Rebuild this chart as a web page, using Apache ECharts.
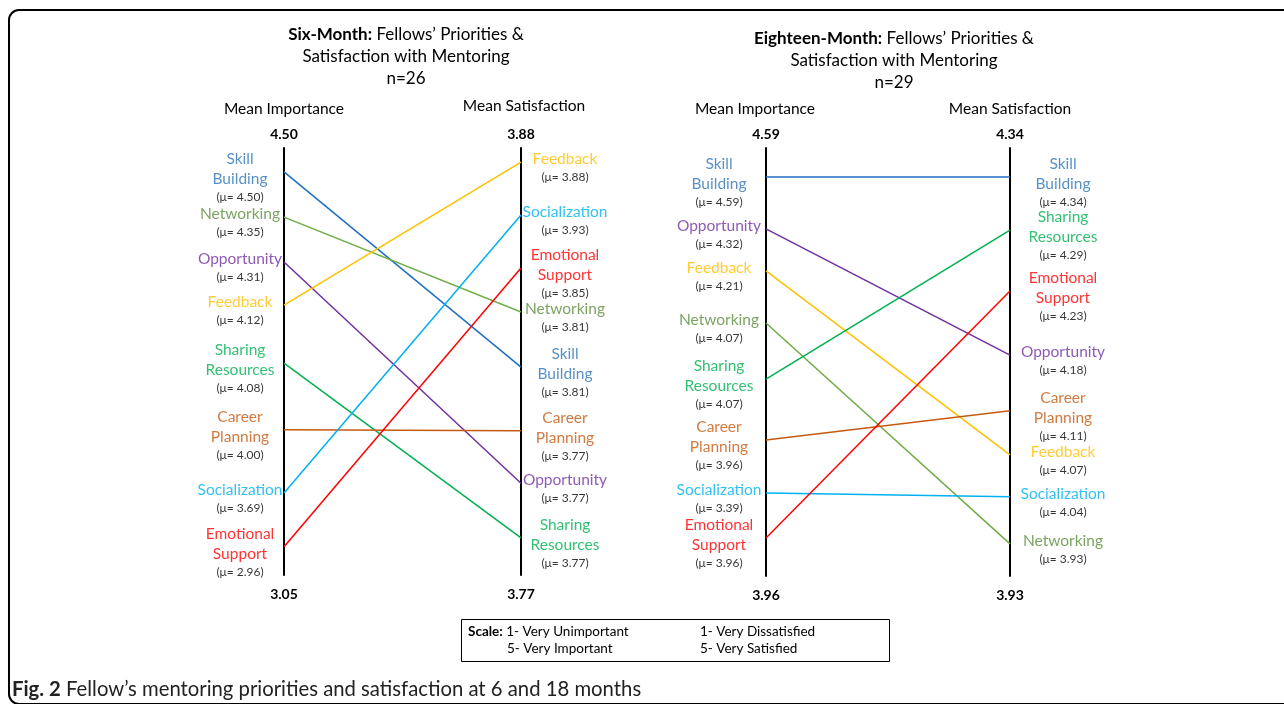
<!DOCTYPE html>
<html>
<head>
<meta charset="utf-8">
<script src="https://cdn.jsdelivr.net/npm/echarts@6/dist/echarts.min.js"></script>
<style>
html,body{margin:0;padding:0;background:#fff;}
#chart{width:1284px;height:704px;}
</style>
</head>
<body>
<div id="chart"></div>
<script>
// ---------- DATA ----------
const categories = ['Skill Building', 'Networking', 'Opportunity', 'Feedback', 'Sharing Resources', 'Career Planning', 'Socialization', 'Emotional Support'];

// Six-month (n=26)
const sixImportance   = [4.50, 4.35, 4.31, 4.12, 4.08, 4.00, 3.69, 2.96];
const sixSatisfaction = [3.81, 3.81, 3.77, 3.88, 3.77, 3.77, 3.93, 3.85];
// drawn level on each vertical axis (0 = bottom, 100 = top)
const sixImpLevel     = [94.4, 83.8, 73.3, 63.2, 49.6, 34.0, 19.2, 6.6];
const sixSatLevel     = [48.7, 61.6, 21.5, 96.7, 8.7, 33.8, 84.3, 71.9];
const sixTopTicks     = ['4.50', '3.88'];
const sixBottomTicks  = ['3.05', '3.77'];

// Eighteen-month (n=29)
const eighteenImportance   = [4.59, 4.07, 4.32, 4.21, 4.07, 3.96, 3.39, 3.96];
const eighteenSatisfaction = [4.34, 3.93, 4.18, 4.07, 4.29, 4.11, 4.04, 4.23];
const eighteenImpLevel     = [93.2, 59.1, 81.1, 71.3, 46.0, 31.8, 19.4, 8.9];
const eighteenSatLevel     = [93.2, 7.5, 51.6, 28.3, 80.8, 38.6, 18.5, 66.6];
const eighteenTopTicks     = ['4.59', '4.34'];
const eighteenBottomTicks  = ['3.96', '3.93'];

const axisHeaders = ['Mean Importance', 'Mean Satisfaction'];

// ---------- STYLE ----------
const lineColors = ['#1F6FC0', '#70AD47', '#7030A0', '#FFC000', '#00B050', '#C55A11', '#00B0F0', '#FF0000'];
const textColors = ['#2E75B6', '#5B8C3A', '#7030A0', '#FFC000', '#00B050', '#C55A11', '#00B0F0', '#FF0000'];
const FONT = 'Lato';

function nameRich(i) {
  return categories[i].split(' ').map(w => `{n${i}|${w}}`).join('\n');
}
const rich = {};
categories.forEach((c, i) => {
  rich['n' + i] = {fontFamily: FONT, fontSize: 15.5, color: textColors[i], lineHeight: 20, align: 'center'};
});
rich.mu = {fontFamily: FONT, fontSize: 12, color: '#000', lineHeight: 16, align: 'center'};

function makeLabels(gi, side, values, levels, dx) {
  return {
    type: 'scatter', xAxisIndex: gi * 2, yAxisIndex: gi * 2,
    symbolSize: 1, itemStyle: {color: 'transparent'}, silent: true,
    data: categories.map((c, i) => [side, levels[i], i]),
    label: {
      show: true, position: 'inside', align: 'center', verticalAlign: 'middle',
      offset: [dx, 5],
      formatter: p => {
        const i = p.value[2];
        return nameRich(i) + '\n{mu|(\u03bc= ' + values[i].toFixed(2) + ')}';
      },
      rich: rich
    },
    z: 5
  };
}

function makePanel(gi, imp, sat, impLvl, satLvl, dxL, dxR) {
  const s = categories.map((c, i) => ({
    type: 'line', name: c, xAxisIndex: gi * 2, yAxisIndex: gi * 2,
    data: [[0, impLvl[i]], [1, satLvl[i]]],
    symbol: 'none', silent: true,
    lineStyle: {color: lineColors[i], width: 1.5}
  }));
  s.push(makeLabels(gi, 0, imp, impLvl, dxL));
  s.push(makeLabels(gi, 1, sat, satLvl, dxR));
  return s;
}

function xAxes(gi, top, bottom, headPad) {
  return [
    {
      gridIndex: gi, type: 'category', position: 'bottom', data: bottom, boundaryGap: false,
      axisLine: {show: false}, axisTick: {show: false},
      axisLabel: {fontFamily: FONT, fontWeight: 'bold', fontSize: 14, color: '#000', margin: 12, interval: 0}
    },
    {
      gridIndex: gi, type: 'category', position: 'top', data: top, boundaryGap: false,
      axisLine: {show: false}, axisTick: {show: false},
      axisLabel: {
        interval: 0, margin: 5,
        formatter: (v, idx) => `{h${idx}|${axisHeaders[idx]}}\n{v|${v}}`,
        rich: {
          h0: {fontFamily: FONT, fontSize: 15.5, color: '#000', lineHeight: 32, padding: headPad[0]},
          h1: {fontFamily: FONT, fontSize: 15.5, color: '#000', lineHeight: 32, padding: headPad[1]},
          v: {fontFamily: FONT, fontSize: 14, fontWeight: 'bold', color: '#000', lineHeight: 18}
        }
      }
    }
  ];
}
function yAxes(gi) {
  const base = {
    gridIndex: gi, type: 'value', min: 0, max: 100,
    axisLine: {show: true, onZero: false, lineStyle: {color: '#000', width: 2}},
    axisTick: {show: false}, axisLabel: {show: false}, splitLine: {show: false}
  };
  return [Object.assign({position: 'left'}, base), Object.assign({position: 'right'}, base)];
}

const titleStyle = {fontFamily: FONT, fontSize: 17, fontWeight: 'normal', color: '#000', lineHeight: 22,
  rich: {b: {fontFamily: FONT, fontSize: 17, fontWeight: 'bold', color: '#000', lineHeight: 22}}};

const option = {
  animation: false,
  backgroundColor: '#fff',
  textStyle: {fontFamily: FONT},
  title: [
    {
      text: "{b|Six-Month:} Fellows\u2019 Priorities &\nSatisfaction with Mentoring\nn=26",
      left: 401, top: 19, textAlign: 'center', textStyle: titleStyle
    },
    {
      text: "{b|Eighteen-Month:} Fellows\u2019 Priorities &\nSatisfaction with Mentoring\nn=29",
      left: 889, top: 23, textAlign: 'center', textStyle: titleStyle
    }
  ],
  grid: [
    {left: 284, top: 148, width: 237, height: 427},
    {left: 766, top: 148, width: 244, height: 428}
  ],
  xAxis: [].concat(
    xAxes(0, sixTopTicks, sixBottomTicks, [[0, 0, 0, 0], [0, 0, 6, 6]]),
    xAxes(1, eighteenTopTicks, eighteenBottomTicks, [[0, 22, 0, 0], [0, 0, 0, 0]])
  ),
  yAxis: [].concat(yAxes(0), yAxes(1)),
  series: [].concat(
    makePanel(0, sixImportance, sixSatisfaction, sixImpLevel, sixSatLevel, -44, 44),
    makePanel(1, eighteenImportance, eighteenSatisfaction, eighteenImpLevel, eighteenSatLevel, -47, 53)
  ),
  graphic: [
    {type: 'rect', shape: {x: 9, y: 10, width: 1300, height: 694, r: 10}, style: {fill: 'none', stroke: '#000', lineWidth: 2}, silent: true},
    {type: 'rect', shape: {x: 461.5, y: 619.5, width: 428, height: 42}, style: {fill: '#fff', stroke: '#000', lineWidth: 1}, silent: true},
    {type: 'text', x: 468, y: 632, style: {text: '{b|Scale:} 1- Very Unimportant', font: '13.5px Lato', fill: '#000', verticalAlign: 'middle',
      rich: {b: {fontFamily: FONT, fontSize: 13.5, fontWeight: 'bold', fill: '#000'}}}},
    {type: 'text', x: 507, y: 649, style: {text: '5- Very Important', font: '13.5px Lato', fill: '#000', verticalAlign: 'middle'}},
    {type: 'text', x: 700, y: 632, style: {text: '1- Very Dissatisfied', font: '13.5px Lato', fill: '#000', verticalAlign: 'middle'}},
    {type: 'text', x: 700, y: 649, style: {text: '5- Very Satisfied', font: '13.5px Lato', fill: '#000', verticalAlign: 'middle'}},
    {type: 'text', x: 12, y: 689, style: {text: '{b|Fig. 2} Fellow\u2019s mentoring priorities and satisfaction at 6 and 18 months',
      font: '20.3px Lato', fill: '#222', verticalAlign: 'middle',
      rich: {b: {fontFamily: FONT, fontSize: 20.3, fontWeight: 'bold', fill: '#222'}}}}
  ]
};

const chart = echarts.init(document.getElementById('chart'), null, {renderer: 'canvas'});
chart.setOption(option);
</script>
</body>
</html>
